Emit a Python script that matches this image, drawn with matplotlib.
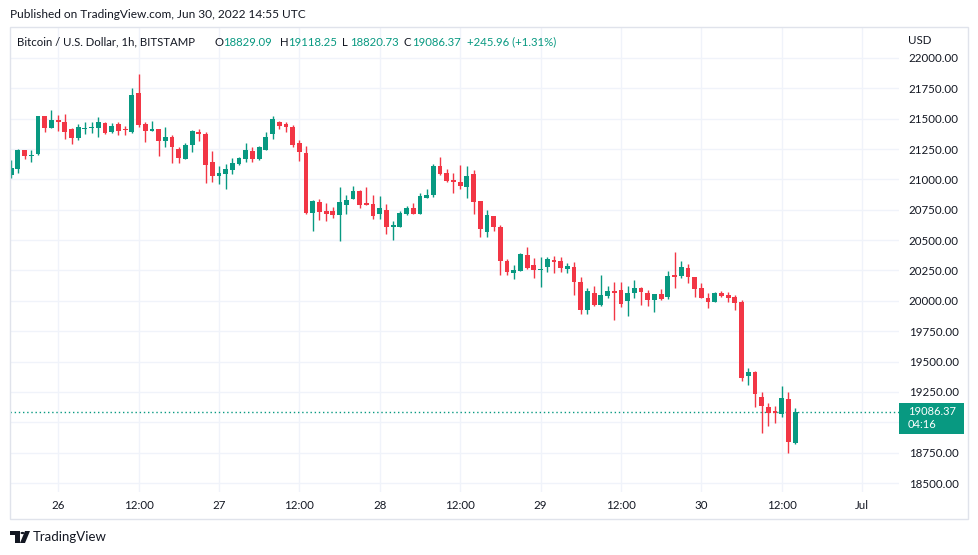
import matplotlib
matplotlib.use("Agg")
import matplotlib.pyplot as plt
from matplotlib.patches import Rectangle, Polygon, Circle
import numpy as np

# hourly BTC/USD candles, Jun 25 17:00 -> Jun 30 14:00 (UTC)
opens = [21036, 21083, 21242, 21195, 21207, 21522, 21426, 21489, 21473, 21415,
         21344, 21412, 21420, 21426, 21467, 21393, 21456, 21413, 21393, 21709,
         21456, 21402, 21413, 21319, 21349, 21248, 21171, 21281, 21393, 21377,
         21144, 21031, 21042, 21078, 21130, 21171, 21234, 21168, 21245, 21377,
         21473, 21459, 21432, 21297, 21218, 20721, 20814, 20740, 20740, 20707,
         20789, 20839, 20905, 20809, 20798, 20715, 20748, 20611, 20611, 20718,
         20765, 20718, 20850, 20872, 21111, 21053, 20995, 20979, 20940, 21045,
         20822, 20570, 20699, 20606, 20328, 20232, 20249, 20378, 20293, 20254,
         20276, 20337, 20328, 20260, 20282, 20155, 19925, 20062, 19966, 20043,
         20081, 20090, 20002, 20062, 20109, 20062, 20007, 20054, 20029, 20213,
         20208, 20268, 20197, 20109, 20026, 19993, 20068, 20048, 20035, 19993,
         19384, 19411, 19208, 19126, 19093, 19066, 19192, 18829.09]
highs = [21160, 21248, 21245, 21245, 21525, 21525, 21572, 21530, 21539, 21420,
         21456, 21473, 21473, 21511, 21470, 21462, 21473, 21440, 21750, 21868,
         21476, 21481, 21418, 21432, 21362, 21270, 21303, 21407, 21413, 21391,
         21234, 21111, 21127, 21174, 21185, 21303, 21267, 21275, 21391, 21525,
         21481, 21470, 21451, 21322, 21275, 20830, 20836, 20803, 20776, 20935,
         20872, 20946, 20910, 20938, 20872, 20864, 20795, 20658, 20740, 20781,
         20809, 20891, 20921, 21127, 21182, 21086, 21053, 21119, 21113, 21078,
         20825, 20748, 20702, 20622, 20348, 20293, 20390, 20441, 20350, 20359,
         20364, 20370, 20359, 20315, 20323, 20197, 20109, 20122, 20213, 20122,
         20153, 20155, 20122, 20172, 20117, 20090, 20058, 20098, 20246, 20405,
         20331, 20304, 20200, 20144, 20062, 20070, 20081, 20076, 20045, 20007,
         19450, 19422, 19247, 19156, 19137, 19302, 19247, 19118.25]
lows = [21009, 21050, 21165, 21146, 21200, 21393, 21420, 21401, 21336, 21289,
        21325, 21374, 21380, 21347, 21374, 21380, 21363, 21363, 21385, 21430,
        21306, 21395, 21196, 21270, 21133, 21133, 21168, 21229, 21319, 20973,
        20982, 20965, 20924, 21042, 21122, 21146, 21143, 21157, 21240, 21336,
        21415, 21393, 21270, 21155, 20715, 20578, 20666, 20660, 20685, 20496,
        20718, 20835, 20767, 20789, 20671, 20674, 20553, 20501, 20605, 20704,
        20715, 20715, 20845, 20858, 21040, 20982, 20891, 20918, 20850, 20713,
        20529, 20529, 20578, 20216, 20210, 20183, 20245, 20260, 20191, 20117,
        20235, 20227, 20238, 20232, 20051, 19889, 19889, 19960, 19960, 20021,
        19840, 19952, 19878, 20021, 19966, 19960, 19911, 20010, 20013, 20109,
        20186, 20144, 20035, 20020, 19944, 19990, 20030, 19988, 19925, 19340,
        19307, 19129, 18915, 18972, 18997, 19046, 18744, 18820.73]
closes = [21091, 21242, 21196, 21205, 21522, 21426, 21489, 21470, 21393, 21344,
          21432, 21426, 21430, 21476, 21385, 21440, 21401, 21407, 21695, 21448,
          21402, 21415, 21319, 21349, 21264, 21179, 21281, 21399, 21377, 21122,
          21031, 21053, 21086, 21135, 21177, 21242, 21165, 21264, 21347, 21498,
          21443, 21435, 21286, 21223, 20721, 20822, 20735, 20713, 20707, 20814,
          20831, 20905, 20789, 20792, 20699, 20765, 20611, 20622, 20726, 20765,
          20718, 20864, 20872, 21111, 21042, 20987, 20976, 20949, 21028, 20817,
          20595, 20707, 20611, 20331, 20240, 20254, 20386, 20273, 20257, 20265,
          20342, 20320, 20273, 20287, 20158, 19925, 20081, 19966, 20048, 20081,
          20068, 19974, 20062, 20109, 20070, 20007, 20054, 20015, 20205, 20197,
          20276, 20199, 20095, 20026, 19988, 20062, 20040, 20026, 19980, 19368,
          19411, 19230, 19137, 19079, 19074, 19197, 18840.41, 19086.37]

tick_pos = [7, 19, 31, 43, 55, 67, 79, 91, 103, 115, 127]
tick_labels = ['26', '12:00', '27', '12:00', '28', '12:00', '29', '12:00', '30', '12:00', 'Jul']
price_ticks = np.arange(18500, 22001, 250)

GREEN = '#089981'
RED = '#f23645'
TEXT = '#131722'
GRID = '#f0f3fa'

W, H = 979, 555
plt.rcParams['font.family'] = ['Lato', 'DejaVu Sans']

fig = plt.figure(figsize=(W / 100, H / 100), dpi=100)
fig.patch.set_facecolor('white')


def fx(x):
    return x / W


def fy(y):
    return 1 - y / H


ax = fig.add_axes([fx(10), fy(492), (899 - 10) / W, (492 - 27) / H])
ax.set_facecolor('white')

o = np.array(opens, dtype=float)
c = np.array(closes, dtype=float)
hi = np.array(highs, dtype=float)
lo = np.array(lows, dtype=float)
x = np.arange(len(o))
up = c >= o
cols = np.where(up, GREEN, RED)

ax.vlines(x, lo, hi, colors=cols, linewidth=1, zorder=3)
body_bottom = np.minimum(o, c)
body_h = np.maximum(np.abs(c - o), 8)
ax.bar(x, body_h, bottom=body_bottom, width=0.72, color=cols, linewidth=0, zorder=4)

# last price dotted line
ax.axhline(closes[-1], color=GREEN, linestyle=(0, (1, 2)), linewidth=1, zorder=2)

ax.set_xlim(-0.18, 132.5)
ax.set_ylim(18426, 22255)
ax.set_yticks(price_ticks)
# the 19000 label sits under the last-price box, so it is not shown
ax.set_yticklabels(['' if p == 19000 else f'{p:.2f}' for p in price_ticks])
ax.yaxis.tick_right()
ax.set_xticks(tick_pos)
ax.set_xticklabels(tick_labels)
ax.tick_params(axis='both', length=0, labelsize=8.3, labelcolor=TEXT)
ax.tick_params(axis='y', pad=7)
ax.tick_params(axis='x', pad=6)
ax.grid(True, color=GRID, linewidth=1, zorder=0)
ax.set_axisbelow(True)
for s in ax.spines.values():
    s.set_visible(False)

# outer frame
fig.patches.append(Rectangle((fx(10), fy(519)), (968 - 10) / W, (519 - 27) / H,
                             transform=fig.transFigure, fill=False,
                             edgecolor='#e0e3eb', linewidth=1))

# header texts
fig.text(fx(10), fy(14), 'Published on TradingView.com, Jun 30, 2022 14:55 UTC',
         fontsize=8.6, color=TEXT, va='center', ha='left')
fig.text(fx(17), fy(42), 'Bitcoin / U.S. Dollar, 1h, BITSTAMP',
         fontsize=8.2, color=TEXT, va='center', ha='left')
ohlc = [('O', '18829.09', 215), ('H', '19118.25', 280),
        ('L', '18820.73', 342), ('C', '19086.37', 404)]
for letter, val, px in ohlc:
    fig.text(fx(px), fy(42), letter, fontsize=8.2, color=TEXT, va='center', ha='left')
    fig.text(fx(px + 8.5), fy(42), val, fontsize=8.2, color=GREEN, va='center', ha='left')
fig.text(fx(467), fy(42), '+245.96 (+1.31%)', fontsize=8.2, color=GREEN,
         va='center', ha='left')

fig.text(fx(908), fy(40), 'USD', fontsize=8.3, color=TEXT, va='center', ha='left')

# last price label
fig.patches.append(Rectangle((fx(899), fy(434)), (964 - 899) / W, (434 - 403) / H,
                             transform=fig.transFigure, facecolor=GREEN,
                             edgecolor='none'))
fig.text(fx(908), fy(418), '19086.37\n04:16', fontsize=8, color='white',
         va='center', ha='left', linespacing=1.15)

# TradingView logo
logo_T = [(10, 531), (20, 531), (20, 543), (15, 543), (15, 535), (10, 535)]
fig.patches.append(Polygon([(fx(a), fy(b)) for a, b in logo_T], closed=True,
                           transform=fig.transFigure, facecolor=TEXT, edgecolor='none'))
logo_V = [(25, 531), (30, 531), (25, 543), (20, 543)]
fig.patches.append(Polygon([(fx(a), fy(b)) for a, b in logo_V], closed=True,
                           transform=fig.transFigure, facecolor=TEXT, edgecolor='none'))
fig.patches.append(Circle((fx(22.5), fy(533)), 2 / W, transform=fig.transFigure,
                          facecolor=TEXT, edgecolor='none'))
fig.text(fx(33), fy(537), 'TradingView', fontsize=9.5, color=TEXT, va='center', ha='left')

fig.savefig('out.png', dpi=100)
